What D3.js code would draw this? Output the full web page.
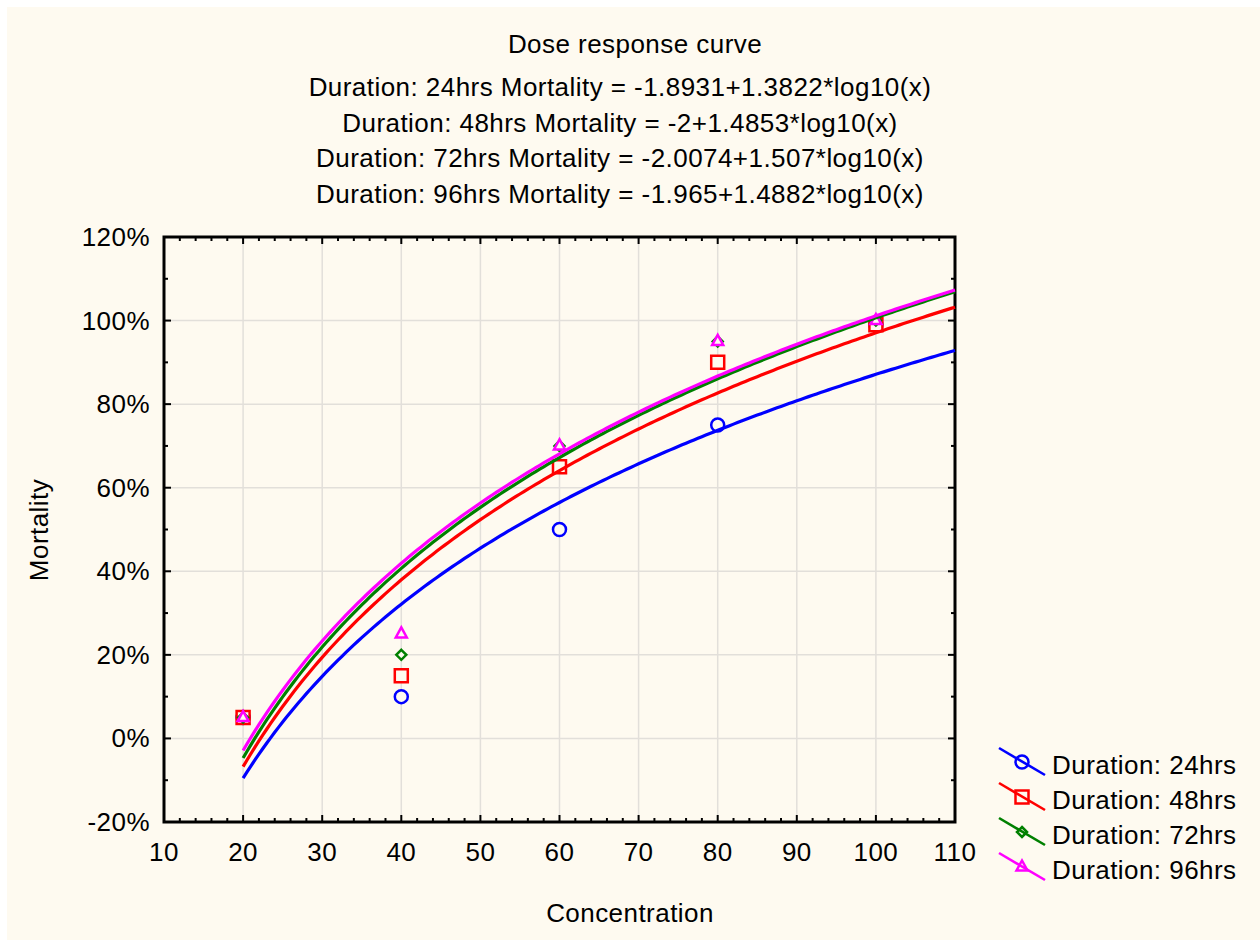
<!DOCTYPE html>
<html>
<head>
<meta charset="utf-8">
<script src="https://cdn.jsdelivr.net/npm/d3@7"></script>
<style>
  body { margin: 0; background: #fff; }
  text { font-family: "Liberation Sans", Arial, sans-serif; fill: #000; letter-spacing: 0.45px; }
</style>
</head>
<body>
<svg id="chart" width="1260" height="940"></svg>
<script>
'use strict'

// values
const concentrations = [20, 40, 60, 80, 100]
const durations = ['24hrs', '48hrs', '72hrs', '96hrs']
const mortality24 = [0.05, 0.10, 0.50, 0.75, 0.99]
const mortality48 = [0.05, 0.15, 0.65, 0.90, 0.99]
const mortality72 = [0.05, 0.20, 0.70, 0.95, 1.00]
const mortality96 = [0.05, 0.25, 0.70, 0.95, 1.00]
// fitted coefficients from the title: a + b*log10(x)
const interceptA = [-1.8931, -2, -2.0074, -1.965]
const slopeB = [1.3822, 1.4853, 1.507, 1.4882]
const coefText = ['-1.8931+1.3822', '-2+1.4853', '-2.0074+1.507', '-1.965+1.4882']
const xTicks = [10, 20, 30, 40, 50, 60, 70, 80, 90, 100, 110]
const yTicks = [-0.2, 0, 0.2, 0.4, 0.6, 0.8, 1.0, 1.2]

const colors = ['#0000ff', '#ff0000', '#008000', '#ff00ff']
const shapes = ['circle', 'square', 'diamond', 'triangle']
const allMortality = [mortality24, mortality48, mortality72, mortality96]
const fs = 26
const bg = '#fefaf0'

const svg = d3.select('#chart')
svg.append('rect').attr('x', 7).attr('y', 7).attr('width', 1253).attr('height', 933)
  .attr('fill', bg)

const m = {left: 164, top: 237, right: 955, bottom: 822}
const x = d3.scaleLinear().domain([10, 110]).range([m.left, m.right])
const y = d3.scaleLinear().domain([-0.2, 1.2]).range([m.bottom, m.top])

// grid
const g = svg.append('g')
g.selectAll('.vgrid').data(xTicks.slice(1, -1)).enter().append('line')
  .attr('x1', d => x(d)).attr('x2', d => x(d))
  .attr('y1', m.top).attr('y2', m.bottom)
  .attr('stroke', '#e2dfda').attr('stroke-width', 1.5)
g.selectAll('.hgrid').data(yTicks.slice(1, -1)).enter().append('line')
  .attr('y1', d => y(d)).attr('y2', d => y(d))
  .attr('x1', m.left).attr('x2', m.right)
  .attr('stroke', '#e2dfda').attr('stroke-width', 1.5)

// inward ticks on all four sides
const xMinor = d3.range(10, 110.01, 2)
const yMinor = d3.range(-0.2, 1.2001, 0.1)
function isMajorX (d) { return Math.abs(d % 10) < 1e-6 }
function isMajorY (d) { return Math.abs(Math.round(d * 10) % 2) === 0 }
const ticks = svg.append('g').attr('stroke', '#000').attr('stroke-width', 2)
xMinor.forEach(function (d) {
  const len = isMajorX(d) ? 7 : 4
  ticks.append('line').attr('x1', x(d)).attr('x2', x(d)).attr('y1', m.bottom).attr('y2', m.bottom - len)
  ticks.append('line').attr('x1', x(d)).attr('x2', x(d)).attr('y1', m.top).attr('y2', m.top + len)
})
yMinor.forEach(function (d) {
  const len = isMajorY(d) ? 7 : 4
  ticks.append('line').attr('y1', y(d)).attr('y2', y(d)).attr('x1', m.left).attr('x2', m.left + len)
  ticks.append('line').attr('y1', y(d)).attr('y2', y(d)).attr('x1', m.right).attr('x2', m.right - len)
})

// frame
svg.append('rect').attr('x', m.left).attr('y', m.top)
  .attr('width', m.right - m.left).attr('height', m.bottom - m.top)
  .attr('fill', 'none').attr('stroke', '#000').attr('stroke-width', 3)

// tick labels
svg.selectAll('.xlab').data(xTicks).enter().append('text')
  .attr('x', d => x(d)).attr('y', m.bottom + 39)
  .attr('text-anchor', 'middle').attr('font-size', fs)
  .text(d => d)
svg.selectAll('.ylab').data(yTicks).enter().append('text')
  .attr('x', m.left - 14).attr('y', d => y(d) + 9)
  .attr('text-anchor', 'end').attr('font-size', fs)
  .text(d => Math.round(d * 100) + '%')

// axis titles
svg.append('text').attr('x', 630).attr('y', 922).attr('text-anchor', 'middle')
  .attr('font-size', fs).text('Concentration')
svg.append('text').attr('transform', 'translate(48,530) rotate(-90)')
  .attr('text-anchor', 'middle').attr('font-size', fs).text('Mortality')

// titles
svg.append('text').attr('x', 635).attr('y', 53).attr('text-anchor', 'middle')
  .attr('font-size', fs).text('Dose response curve')
durations.forEach(function (dur, i) {
  svg.append('text').attr('x', 620).attr('y', 96 + i * 35.5).attr('text-anchor', 'middle')
    .attr('font-size', fs)
    .text('Duration: ' + dur + ' Mortality = ' + coefText[i] + '*log10(x)')
})

function drawMarker (sel, shape, cx, cy, color) {
  const s = sel.append('path')
    .attr('fill', bg).attr('stroke', color).attr('stroke-width', 2.5)
  let p
  if (shape === 'circle') {
    p = `M${cx - 6.5},${cy}a6.5,6.5 0 1,0 13,0a6.5,6.5 0 1,0 -13,0`
  } else if (shape === 'square') {
    p = `M${cx - 6.5},${cy - 6.5}h13v13h-13z`
  } else if (shape === 'diamond') {
    p = `M${cx},${cy - 5}l5,5l-5,5l-5,-5z`
  } else {
    p = `M${cx},${cy - 6.5}l5.5,10h-11z`
  }
  s.attr('d', p)
}

const plot = svg.append('g')

// data markers (background-filled, later series on top)
allMortality.forEach(function (vals, i) {
  vals.forEach(function (v, j) {
    drawMarker(plot, shapes[i], x(concentrations[j]), y(v), colors[i])
  })
})

// fitted curves
const curveX = d3.range(20, 110.01, 0.5)
const line = d3.line().x(d => x(d[0])).y(d => y(d[1]))
durations.forEach(function (dur, i) {
  const pts = curveX.map(c => [c, interceptA[i] + slopeB[i] * Math.log10(c)])
  plot.append('path').datum(pts).attr('d', line)
    .attr('fill', 'none').attr('stroke', colors[i]).attr('stroke-width', 3.2)
})

// legend
const leg = svg.append('g')
durations.forEach(function (dur, i) {
  const ly = 765 + i * 35
  drawMarker(leg, shapes[i], 1022, ly - 3, colors[i])
  leg.append('line').attr('x1', 999).attr('y1', ly - 17).attr('x2', 1045).attr('y2', ly + 10)
    .attr('stroke', colors[i]).attr('stroke-width', 2.6)
  leg.append('text').attr('x', 1052).attr('y', ly + 9).attr('font-size', fs)
    .text('Duration: ' + dur)
})
</script>
</body>
</html>
